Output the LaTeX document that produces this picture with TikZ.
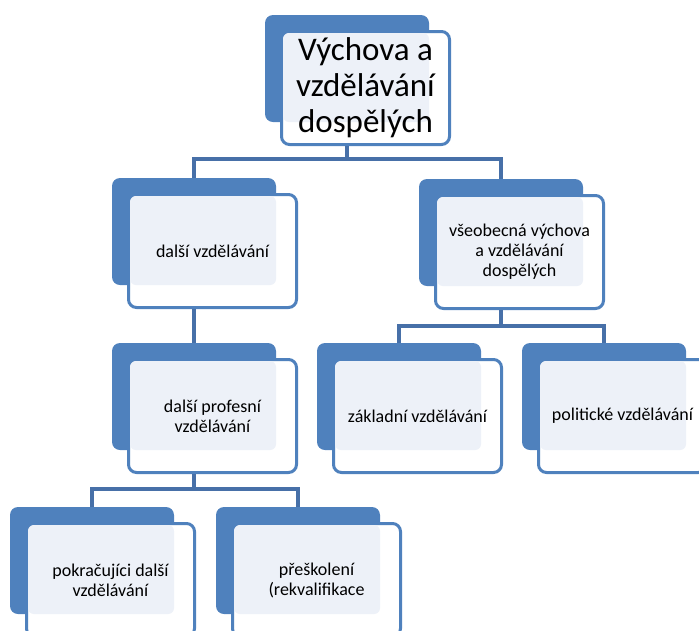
\documentclass[tikz,border=0pt]{standalone}
\usepackage{fontspec}
\setmainfont{Carlito}
\usetikzlibrary{positioning}
\definecolor{boxblue}{HTML}{4F81BD}
\definecolor{linkblue}{HTML}{4770A8}
\definecolor{boxtint}{HTML}{EDF1F8}
\newcommand{\orgbox}[5][]{%
  \node[backbox,anchor=north west] (#2-back) at (#3,#4) {};
  \node[framebox,below right=15pt and 15pt of #2-back.north west] (#2) {};
  \fill[boxtint,rounded corners=6pt] ([shift={(3,3)}]#2.north west) rectangle (#2-back.south east);
  \node[boxtext,#1] (#2-text) at (#2.center) {#5};
}
\begin{document}
\begin{tikzpicture}[x=1pt,y=-1pt,
    backbox/.style={rectangle,fill=boxblue,rounded corners=8pt,minimum width=164pt,minimum height=107pt,inner sep=0pt,outer sep=0pt},
    framebox/.style={rectangle,draw=boxblue,line width=3pt,fill=white,rounded corners=8pt,minimum width=168pt,minimum height=113pt,inner sep=0pt},
    boxtext/.style={align=center,inner sep=0pt,font=\fontsize{18}{20}\selectfont},
    bigtext/.style={font=\fontsize{33}{36}\selectfont},
    link/.style={draw=linkblue,line width=4pt}]
  \useasboundingbox (0,0) rectangle (699,630);
  \orgbox[bigtext]{top}{265}{15}{Výchova a\\ vzdělávání\\ dospělých}
  \orgbox{dalsi}{112}{178}{další vzdělávání}
  \orgbox{obecna}{419}{179}{všeobecná výchova\\ a vzdělávání\\ dospělých}
  \orgbox{profes}{112}{343}{další profesní\\ vzdělávání}
  \orgbox{zakl}{317}{343}{základní vzdělávání}
  \orgbox{polit}{522}{343}{politické vzdělávání}
  \orgbox{pokr}{10}{507}{pokračujíci další\\ vzdělávání}
  \orgbox{presk}{216}{507}{přeškolení\\ (rekvalifikace}
  % connectors
  \draw[link] (top-back.south |- top.south) -- ++(0,13) coordinate (j1);
  \draw[link] (dalsi-back.north) |- (j1) -| (obecna-back.north);
  \draw[link] (dalsi-back.south |- dalsi.south) -- (profes-back.north);
  \draw[link] (obecna-back.south |- obecna.south) -- ++(0,16) coordinate (j2);
  \draw[link] (zakl-back.north) |- (j2) -| (polit-back.north);
  \draw[link] (profes-back.south |- profes.south) -- ++(0,15) coordinate (j3);
  \draw[link] (pokr-back.north) |- (j3) -| (presk-back.north);
\end{tikzpicture}
\end{document}
